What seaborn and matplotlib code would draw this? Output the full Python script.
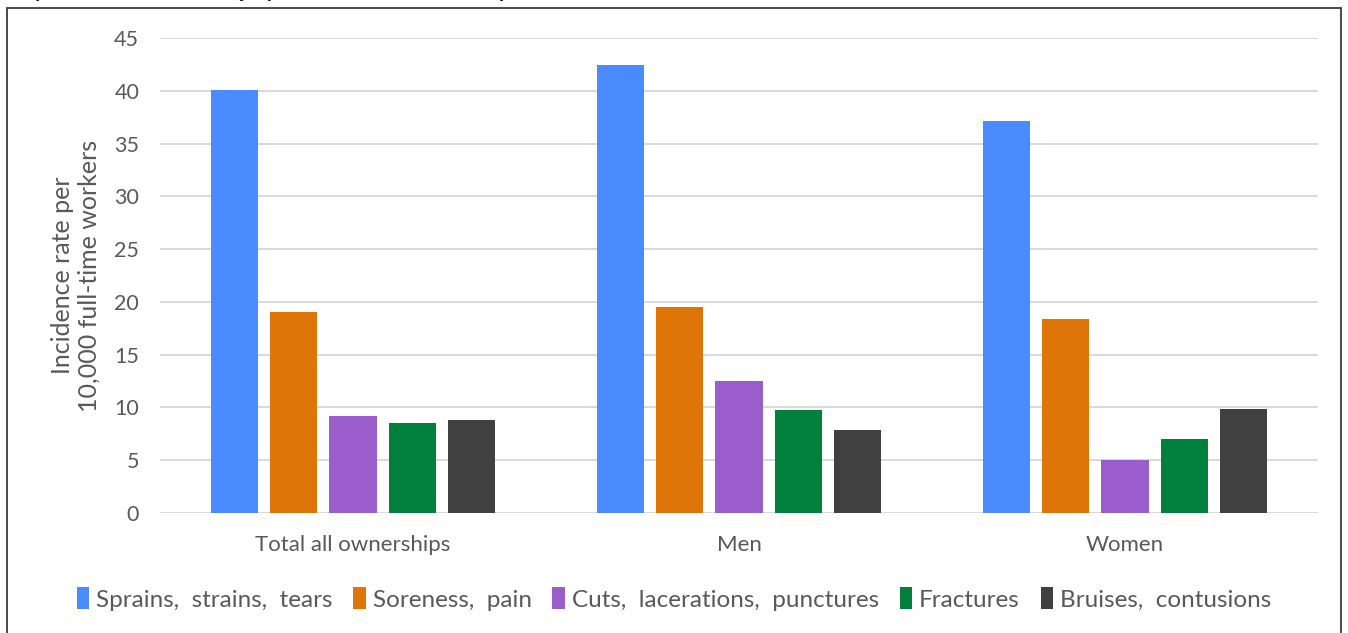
import matplotlib
matplotlib.use("Agg")
import matplotlib.pyplot as plt
from matplotlib.patches import Rectangle, Patch
import seaborn as sns
import pandas as pd

categories = ["Total all ownerships", "Men", "Women"]
series = ["Sprains,  strains,  tears", "Soreness,  pain",
          "Cuts,  lacerations,  punctures", "Fractures", "Bruises,  contusions"]
sprains = [40.1, 42.4, 37.1]
soreness = [19.0, 19.5, 18.4]
cuts = [9.2, 12.5, 5.0]
fractures = [8.5, 9.8, 7.0]
bruises = [8.8, 7.9, 9.9]
colors = ["#4a8bff", "#df7409", "#9b5ccc", "#01803c", "#404040"]
yticks = [0, 5, 10, 15, 20, 25, 30, 35, 40, 45]
ylabel = "Incidence rate per\n10,000 full-time workers"
title = "by selected nature of injury or illness, and ownership and sex, 2020"

values = [sprains, soreness, cuts, fractures, bruises]
rows = []
for s, vals in zip(series, values):
    for c, v in zip(categories, vals):
        rows.append({"category": c, "series": s, "value": v})
df = pd.DataFrame(rows)

sns.set_theme(style="white")
plt.rcParams["font.family"] = ["Lato", "DejaVu Sans"]
text_color = "#595959"

fig = plt.figure(figsize=(13.48, 6.33), dpi=100)
ax = fig.add_axes([160/1348, 1 - 513/633, 1158/1348, 475/633])

sns.barplot(data=df, x="category", y="value", hue="series", order=categories,
            hue_order=series, palette=colors, width=0.767, gap=0.2,
            saturation=1, ax=ax, legend=False, zorder=3, edgecolor="none")

ax.set_ylim(0, 45)
ax.set_xlim(-0.5, 2.5)
ax.set_yticks(yticks)
ax.yaxis.grid(True, color="#d9d9d9", linewidth=1.4, zorder=0)
ax.set_axisbelow(True)
for sp in ax.spines.values():
    sp.set_visible(False)
ax.tick_params(axis="y", length=0, labelsize=15.5, labelcolor=text_color, pad=15)
ax.tick_params(axis="x", length=0, labelsize=16, labelcolor=text_color, pad=16)
ax.set_xlabel("")
ax.set_ylabel(ylabel, fontsize=18, color=text_color, labelpad=10, linespacing=1.15)

# outer border
fig.patches.append(Rectangle((7/1348, -0.05), 1334/1348, 1.05 - 8/633,
                             transform=fig.transFigure, fill=False,
                             edgecolor="#3a3a3a", linewidth=1.3))
fig.text(22/1348, 1 + 9/633, title, fontsize=15, fontweight="bold",
         color="#111111", ha="left", va="center")

handles = [Patch(facecolor=c, edgecolor="none") for c in colors]
fig.legend(handles, series, loc="center", bbox_to_anchor=(0.5, 1 - 599/633),
           ncol=5, frameon=False, fontsize=17.5, labelcolor=text_color,
           handlelength=0.5, handleheight=1.0, handletextpad=0.3,
           columnspacing=0.85)

fig.savefig("out.png", dpi=100)
